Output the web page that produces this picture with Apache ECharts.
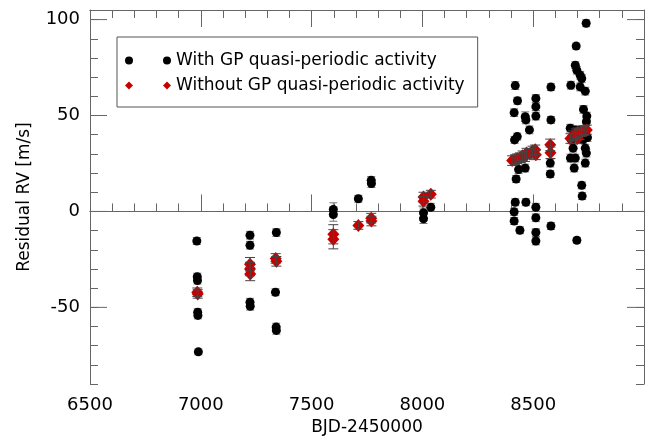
<!DOCTYPE html>
<html><head><meta charset="utf-8">
<script src="https://cdn.jsdelivr.net/npm/echarts@6/dist/echarts.min.js"></script>
<style>html,body{margin:0;padding:0;background:#fff}#c{width:660px;height:441px}</style>
</head><body><div id="c"></div>
<script>
// ---- data ----
const legendNames = ['With GP quasi-periodic activity', 'Without GP quasi-periodic activity'];
const xTitle = 'BJD-2450000';
const yTitle = 'Residual RV [m/s]';
const xTickLabels = [6500, 7000, 7500, 8000, 8500];
const yTickLabels = [-50, 0, 50, 100];

const withGP_x = [6982,6984,6985,6986,6987,6989,
  7222,7222,7222,7223,
  7341,7337,7340,7341,
  7598,7598, 7711, 7769,7770, 8005,8005,8038,
  8419,8429,8414,8428,8416,8434,8423,8419,8414,8414,8440,
  8464,8467,8464,8467, 8483,
  8512,8512,8512,8512,8512,8512,8512,
  8580,8580,8577,8577,8580,
  8739,8694,8690,8697,8712,8719,8670,8712,8735,8727,8742,8740,8667,8690,8712,8735,8672,8725,8745,8680,8735,8740,8668,8690,8735,8685,8719,8721,8697];
const withGP_y = [-15.4,-34,-36,-52.5,-54.2,-73.2,
  -12.4,-17.6,-47.3,-49.4,
  -11,-42.1,-60.3,-62,
  1.0,-1.6, 6.6, 16.2,14.5, -0.7,-3.8,2.2,
  65.6,57.7,51.5,39,37.3,21.8,16.9,4.8,-0.2,-5,-9.8,
  49.4,47.7,22.6,4.8, 42.5,
  58.9,54.6,49.7,2.2,-3.3,-11,-15.4,
  64.8,47.7,25.2,19.5,-7.6,
  98.1,86.2,76.2,73.6,71,69.3,65.8,64.9,62.7,53.2,49.7,46.8,43.4,42.5,42.5,41.5,37.3,37.3,38.5,33,33,30.4,27.8,27.8,25.2,22.6,13.6,8,-15];
const withGP_err = [1.8,1.8,1.8,1.8,1.8,1.5,
  2,2,2,2,
  2,1.8,2,2,
  3.5,3.5, 1.8, 2,2, 2.5,2.5,2,
  2,1.8,2,1.8,1.8,2,1.8,1.8,1.8,1.8,1.8,
  2.5,2,2,1.8, 2,
  2,2,2,2,2,2,2,
  1.8,1.8,2,1.8,1.8,
  1.8,1.5,1.8,2,2,2,2,2,2,2,2,2,2,2,2,2,2,2,2,2,2,2,2,2,2,2,1.8,1.8,1.5];

const noGP_x = [6984,6986, 7222,7222,7223, 7338,7341, 7598,7598, 7711, 7769,7770,
  8005,8005,8038,
  8405,8418,8428,8440,8452,8463,8470,8485,8497,8509,8512,
  8577,8578,
  8668,8680,8692,8700,8710,8718,8730,8742,8700];
const noGP_y = [-42.1,-43, -27.5,-30,-32.6, -24.5,-26, -11.9,-14.5, -7.3, -3.5,-5,
  7.5,5.3,9,
  26.5,27,27.5,28,29,28.5,30.4,30,31.5,32.1,29.5,
  34.7,30.6,
  38,39.5,40.5,41,40,41.5,42,42.5,38];
const noGP_err = [2.2,2.2, 3.5,3.5,3.5, 2.5,2.5, 5,5, 2, 2.5,2.5,
  2.5,2.5,2,
  2.5,2.5,2.5,2.5,2.5,2.5,2.5,2.5,2.5,2.5,2.5,
  3,3,
  2.5,2.5,2.5,2.5,2.5,2.5,2.5,2.5,2.5];

// ---- build ----
const withPts = withGP_x.map((x,i)=>[x, withGP_y[i], withGP_err[i]]);
const noPts = noGP_x.map((x,i)=>[x, noGP_y[i], noGP_err[i]]);
const FONT = 'DejaVu Sans';
const AX = '#666';

function errRender(cap, color){
  return function(params, api){
    const x = api.value(0), y = api.value(1), e = api.value(2);
    const lo = api.coord([x, y - e]), hi = api.coord([x, y + e]);
    const st = {stroke: color, lineWidth: 1};
    return {type:'group', children:[
      {type:'line', shape:{x1:lo[0],y1:lo[1],x2:hi[0],y2:hi[1]}, style:st},
      {type:'line', shape:{x1:lo[0]-cap,y1:lo[1],x2:lo[0]+cap,y2:lo[1]}, style:st},
      {type:'line', shape:{x1:hi[0]-cap,y1:hi[1],x2:hi[0]+cap,y2:hi[1]}, style:st}
    ]};
  };
}

function xAx(pos, interval, len, labels){
  return {type:'value', position:pos, min:6500, max:9000, interval:interval,
    axisLine:{show:true, lineStyle:{color:AX, width:1}},
    axisTick:{show:true, inside:true, length:len, lineStyle:{color:AX}},
    axisLabel:{show:labels, color:'#000', fontFamily:FONT, fontSize:18, margin:12,
      formatter: v => (xTickLabels.indexOf(Math.round(v)) >= 0 ? String(Math.round(v)) : '')},
    splitLine:{show:false},
    name: labels ? xTitle : '', nameLocation:'middle', nameGap:33,
    nameTextStyle:{color:'#000', fontFamily:FONT, fontSize:17}};
}
function yAx(pos, labels){
  return {type:'value', position:pos, min:-90, max:105, interval:10,
    axisLine:{show:true, lineStyle:{color:AX, width:1}},
    axisTick:{show:true, inside:true, length:8, lineStyle:{color:AX}},
    axisLabel:{show:labels, color:'#000', fontFamily:FONT, fontSize:18, margin:10,
      formatter: v => (yTickLabels.indexOf(Math.round(v)) >= 0 ? String(Math.round(v)) : '')},
    splitLine:{show:false},
    name: labels ? yTitle : '', nameLocation:'middle', nameGap:57,
    nameTextStyle:{color:'#000', fontFamily:FONT, fontSize:17}};
}

const chart = echarts.init(document.getElementById('c'), null, {renderer:'canvas'});
const iconCirc2 = 'path://M0,4a4,4 0 1,0 8,0a4,4 0 1,0 -8,0Z M38,4a4,4 0 1,0 8,0a4,4 0 1,0 -8,0Z';
const iconDiam2 = 'path://M4,0L8,4L4,8L0,4Z M42,0L46,4L42,8L38,4Z';

chart.setOption({
  animation:false,
  textStyle:{fontFamily:FONT},
  grid:{left:90, right:16, top:10, bottom:56, containLabel:false},
  xAxis:[xAx('bottom',100,8,false), xAx('bottom',500,17,true), xAx('top',100,8,false), xAx('top',500,17,false)],
  yAxis:[yAx('left',true), yAx('right',false)],
  legend:{show:true, orient:'vertical', left:117, top:37,
    borderColor:'#555', borderWidth:1, padding:[13,13,11,8], itemGap:4,
    itemWidth:46, itemHeight:8, selectedMode:false,
    textStyle:{color:'#000', fontFamily:FONT, fontSize:17, lineHeight:21},
    data:[{name:legendNames[0], icon:iconCirc2}, {name:legendNames[1], icon:iconDiam2}]},
  series:[
    {type:'custom', name:'errWith', xAxisIndex:0, yAxisIndex:0, renderItem:errRender(4,'#777'), data:withPts, z:2, silent:true},
    {type:'scatter', name:legendNames[0], xAxisIndex:0, yAxisIndex:0, symbol:'circle', symbolSize:9,
      itemStyle:{color:'#000', opacity:1}, data:withPts, z:3},
    {type:'custom', name:'errNo', xAxisIndex:0, yAxisIndex:0, renderItem:errRender(5,'#444'), data:noPts, z:5, silent:true},
    {type:'scatter', name:legendNames[1], xAxisIndex:0, yAxisIndex:0, symbol:'diamond', symbolSize:[12,13],
      itemStyle:{color:'#c80000', opacity:1}, data:noPts, z:4}
  ]
});

// longer major y ticks, placed through the axis scale
const g = [];
const xl = chart.convertToPixel({xAxisIndex:0}, 6500);
const xr = chart.convertToPixel({xAxisIndex:0}, 9000);
yTickLabels.forEach(v => {
  const py = chart.convertToPixel({yAxisIndex:0}, v);
  g.push({type:'line', shape:{x1:xl, y1:py, x2:xl+17, y2:py}, style:{stroke:AX, lineWidth:1}});
  g.push({type:'line', shape:{x1:xr, y1:py, x2:xr-17, y2:py}, style:{stroke:AX, lineWidth:1}});
});
chart.setOption({graphic:g});
</script></body></html>
